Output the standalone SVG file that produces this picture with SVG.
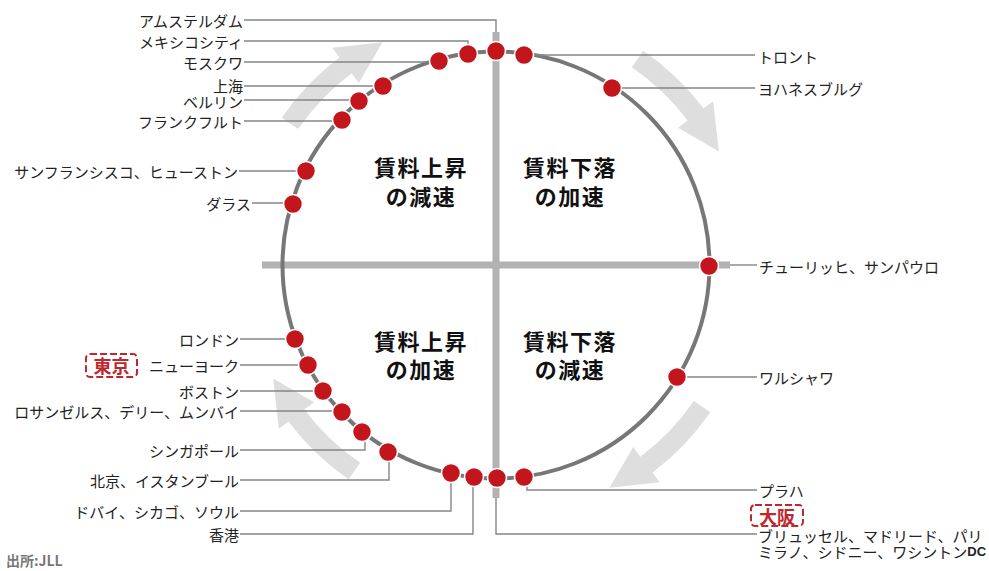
<svg xmlns="http://www.w3.org/2000/svg" xmlns:xlink="http://www.w3.org/1999/xlink" width="989" height="571" viewBox="0 0 989 571">
<style>
.lbl{font-family:"Noto Sans CJK JP","Noto Sans",sans-serif;font-size:15px;fill:#222;dominant-baseline:central}
.end{text-anchor:end}
.lead{fill:none;stroke:#858585;stroke-width:1.4}
.dot{fill:#c3161c;stroke:#fff;stroke-width:1.6}
.q{font-family:"Noto Sans CJK JP","Noto Sans",sans-serif;font-weight:bold;font-size:22px;fill:#111;text-anchor:middle;letter-spacing:1.5px}
.arr{fill:#dedede}
.axis{stroke:#b2b2b2;stroke-width:7;fill:none}
.tag{fill:none;stroke:#c0272d;stroke-width:2;stroke-dasharray:7 3}
.tagt{font-family:"Noto Sans CJK JP","Noto Sans",sans-serif;font-weight:bold;font-size:18px;fill:#c0272d;text-anchor:middle;dominant-baseline:central}
</style>
<defs>
<path id="arrow" class="arr" d="M281.7,117.7 A260,260 0 0 1 339.5,57.4 L332.3,47.8 L382.5,42.2 L358.8,82.9 L351.6,73.3 A240,240 0 0 0 298.2,129.1 Z"/>
</defs>
<rect width="989" height="571" fill="#fff"/>
<g id="arrows">
<use xlink:href="#arrow"/>
<use xlink:href="#arrow" transform="rotate(90 496 265)"/>
<use xlink:href="#arrow" transform="rotate(180 496 265)"/>
<use xlink:href="#arrow" transform="rotate(270 496 265)"/>
</g>
<g id="axes">
<line class="axis" x1="262" y1="265" x2="730" y2="265"/>
<line class="axis" x1="496" y1="32" x2="496" y2="498"/>
</g>
<circle id="cycle" cx="496" cy="265" r="213.5" fill="none" stroke="#777" stroke-width="4"/>
<g id="quadrants">
<text class="q" x="421" y="176">賃料上昇</text>
<text class="q" x="421" y="205">の減速</text>
<text class="q" x="570" y="176">賃料下落</text>
<text class="q" x="570" y="205">の加速</text>
<text class="q" x="421" y="350">賃料上昇</text>
<text class="q" x="421" y="378">の加速</text>
<text class="q" x="570" y="350">賃料下落</text>
<text class="q" x="570" y="378">の減速</text>
</g>
<g id="connectors">
<path class="lead" d="M244,20 H496 V32"/>
<path class="lead" d="M244,41 H468 V46"/>
<path class="lead" d="M244,62 H432"/>
<path class="lead" d="M244,86 H376"/>
<path class="lead" d="M244,100 H352"/>
<path class="lead" d="M244,121 H336"/>
<path class="lead" d="M239,171 H300"/>
<path class="lead" d="M252,203 H287"/>
<path class="lead" d="M530,55 H755"/>
<path class="lead" d="M618,88 H755"/>
<path class="lead" d="M730,265 H757"/>
<path class="lead" d="M683,377 H757"/>
<path class="lead" d="M240,339 H289"/>
<path class="lead" d="M240,365 H302"/>
<path class="lead" d="M240,391 H317"/>
<path class="lead" d="M240,411 H336"/>
<path class="lead" d="M240,450 H365 V440"/>
<path class="lead" d="M240,480 H389 V460"/>
<path class="lead" d="M240,511 H451 V482"/>
<path class="lead" d="M240,534 H473 V486"/>
<path class="lead" d="M496,498 V534 H757"/>
<path class="lead" d="M527,485 V490 H757"/>
</g>
<g id="amsterdam"><circle class="dot" cx="496" cy="51" r="9.5"/><text class="lbl end" x="243" y="20">アムステルダム</text></g>
<g id="mexicocity"><circle class="dot" cx="468" cy="54" r="9.5"/><text class="lbl end" x="243" y="41">メキシコシティ</text></g>
<g id="moscow"><circle class="dot" cx="439" cy="61" r="9.5"/><text class="lbl end" x="243" y="62">モスクワ</text></g>
<g id="shanghai"><circle class="dot" cx="383" cy="86" r="9.5"/><text class="lbl end" x="243" y="85">上海</text></g>
<g id="berlin"><circle class="dot" cx="359" cy="101" r="9.5"/><text class="lbl end" x="243" y="101">ベルリン</text></g>
<g id="frankfurt"><circle class="dot" cx="342" cy="120" r="9.5"/><text class="lbl end" x="243" y="121">フランクフルト</text></g>
<g id="sanfrancisco"><circle class="dot" cx="306" cy="171" r="9.5"/><text class="lbl end" x="238" y="171">サンフランシスコ、ヒューストン</text></g>
<g id="dallas"><circle class="dot" cx="293" cy="204" r="9.5"/><text class="lbl end" x="251" y="203">ダラス</text></g>
<g id="toronto"><circle class="dot" cx="524" cy="55" r="9.5"/><text class="lbl" x="758" y="56">トロント</text></g>
<g id="johannesburg"><circle class="dot" cx="612" cy="88" r="9.5"/><text class="lbl" x="758" y="88">ヨハネスブルグ</text></g>
<g id="zurich"><circle class="dot" cx="709" cy="266" r="9.5"/><text class="lbl" x="759" y="266">チューリッヒ、サンパウロ</text></g>
<g id="warsaw"><circle class="dot" cx="677" cy="377" r="9.5"/><text class="lbl" x="759" y="377">ワルシャワ</text></g>
<g id="london"><circle class="dot" cx="295" cy="339" r="9.5"/><text class="lbl end" x="239" y="339">ロンドン</text></g>
<g id="newyork"><circle class="dot" cx="308" cy="365" r="9.5"/><text class="lbl end" x="239" y="365">ニューヨーク</text>
<rect class="tag" x="86" y="354" width="51" height="23" rx="4"/><text class="tagt" x="111.5" y="365">東京</text></g>
<g id="boston"><circle class="dot" cx="323" cy="391" r="9.5"/><text class="lbl end" x="239" y="391">ボストン</text></g>
<g id="losangeles"><circle class="dot" cx="342" cy="412" r="9.5"/><text class="lbl end" x="239" y="411">ロサンゼルス、デリー、ムンバイ</text></g>
<g id="singapore"><circle class="dot" cx="362" cy="432" r="9.5"/><text class="lbl end" x="239" y="450">シンガポール</text></g>
<g id="beijing"><circle class="dot" cx="388" cy="452" r="9.5"/><text class="lbl end" x="239" y="480">北京、イスタンブール</text></g>
<g id="dubai"><circle class="dot" cx="451" cy="473" r="9.5"/><text class="lbl end" x="239" y="511">ドバイ、シカゴ、ソウル</text></g>
<g id="hongkong"><circle class="dot" cx="474" cy="477" r="9.5"/><text class="lbl end" x="239" y="534">香港</text></g>
<g id="brussels"><circle class="dot" cx="497" cy="478" r="9.5"/>
<text class="lbl" x="758" y="535">ブリュッセル、マドリード、パリ</text>
<text class="lbl" x="758" y="551">ミラノ、シドニー、ワシントン<tspan font-weight="bold" font-family="Liberation Sans, sans-serif" font-size="13px">DC</tspan></text>
<rect class="tag" x="751" y="505" width="52" height="21" rx="4"/><text class="tagt" x="777" y="516">大阪</text></g>
<g id="prague"><circle class="dot" cx="524" cy="477" r="9.5"/><text class="lbl" x="759" y="490">プラハ</text></g>
<text id="source" x="6" y="560" font-family="Noto Sans CJK JP, Noto Sans, sans-serif" font-weight="bold" font-size="14px" fill="#777" dominant-baseline="central">出所:JLL</text>
</svg>
